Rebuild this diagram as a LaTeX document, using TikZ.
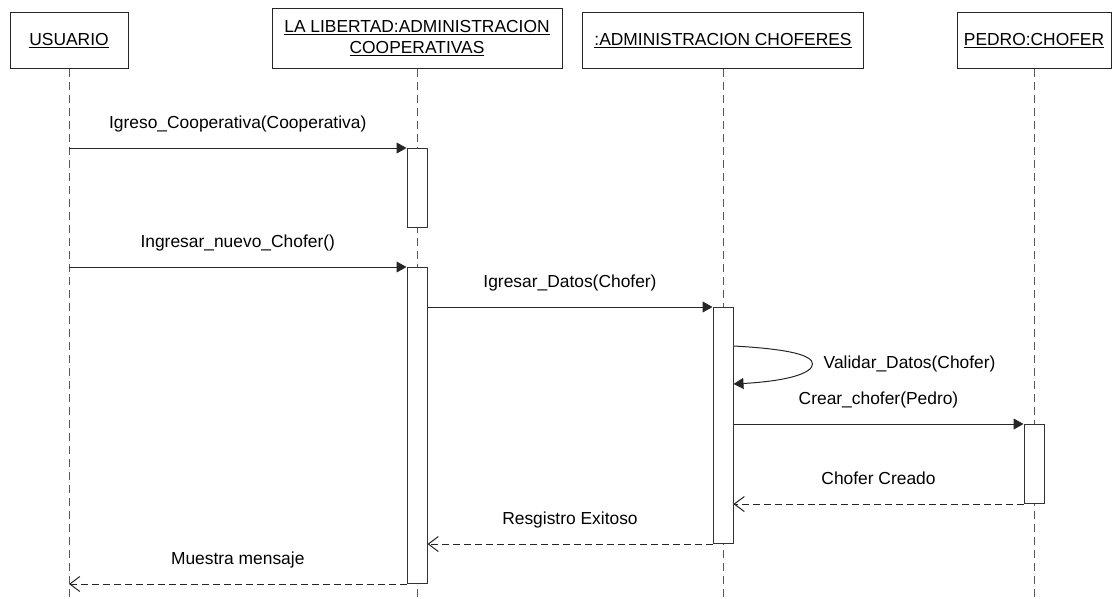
\documentclass[tikz,border=0pt]{standalone}
\usepackage{fontspec}
\setmainfont{Liberation Sans}
\usetikzlibrary{arrows.meta,positioning,calc}

\tikzset{
  objbox/.style={rectangle, draw=black!85, line width=1pt, minimum height=56pt, inner sep=4pt, anchor=south},
  lifeline/.style={draw=black!65, line width=1pt, dash pattern=on 8pt off 5pt},
  actbox/.style={rectangle, draw=black!80, fill=white, line width=1pt, minimum width=20pt, inner sep=0pt, anchor=north},
  call/.style={draw=black!85, line width=1pt, -{Triangle[length=10pt,width=11pt]}},
  reply/.style={draw=black!85, line width=1pt, dash pattern=on 7pt off 4pt, -{Straight Barb[length=10pt,width=15pt]}},
  msg/.style={midway, yshift=24pt, text height=12pt, text depth=4pt, inner sep=0pt},
}

\begin{document}
\begin{tikzpicture}[x=1pt, y=-1pt, font=\fontsize{17.4}{21}\selectfont]
    \useasboundingbox (0,0) rectangle (1112,598);

    % objects
    \node (usuario) [objbox, minimum width=118pt] at (69,69) {\underline{USUARIO}};
    \node (libertad) [objbox, minimum width=290pt, minimum height=60pt, align=center] at (417,69)
        {\underline{LA LIBERTAD:ADMINISTRACION}\\\underline{COOPERATIVAS}};
    \node (admin) [objbox, minimum width=281pt] at (723,69) {\underline{:ADMINISTRACION CHOFERES}};
    \node (pedro) [objbox, minimum width=154pt] at (1034,69) {\underline{PEDRO:CHOFER}};
    \coordinate (bottom) at (0,598);

    % lifelines
    \draw [lifeline] (usuario.south) -- (usuario.south |- bottom);
    \draw [lifeline] (libertad.south) -- (libertad.south |- bottom);
    \draw [lifeline] (admin.south) -- (admin.south |- bottom);
    \draw [lifeline] (pedro.south) -- (pedro.south |- bottom);

    % activations
    \node (act1) [actbox, minimum height=79pt] at (libertad.south |- 0,148) {};
    \node (act2) [actbox, minimum height=316pt] at (libertad.south |- 0,267) {};
    \node (act3) [actbox, minimum height=236pt] at (admin.south |- 0,307) {};
    \node (act4) [actbox, minimum height=79pt] at (pedro.south |- 0,424) {};

    % messages
    \draw [call] (usuario |- act1.north west) -- node[msg] {Igreso\_Cooperativa(Cooperativa)} (act1.north west);
    \draw [call] (usuario |- act2.north west) -- node[msg] {Ingresar\_nuevo\_Chofer()} (act2.north west);
    \draw [call] (act2.north east |- act3.north) -- node[msg] {Igresar\_Datos(Chofer)} (act3.north west);

    \coordinate (loopstart) at ($(act3.north east)+(0,39)$);
    \coordinate (looptip) at ($(act3.north east)+(79,57)$);
    \coordinate (loopend) at ($(act3.north east)+(0,77)$);
    \draw [call] (loopstart) .. controls +(55,3) and +(0,-9) .. (looptip)
        .. controls +(0,9) and +(55,-3) .. (loopend);
    \node (validar) [right=11pt of looptip, inner sep=0pt] {Validar\_Datos(Chofer)};

    \draw [call] (act3.east |- act4.north) -- node[msg] {Crear\_chofer(Pedro)} (act4.north west);
    \draw [reply] (act4.south west) -- node[msg] {Chofer Creado} (act3.east |- act4.south);
    \draw [reply] (act3.south west) -- node[msg] {Resgistro Exitoso} (act2.east |- act3.south);
    \draw [reply] (act2.south west) -- node[msg] {Muestra mensaje} (usuario |- act2.south);
\end{tikzpicture}
\end{document}
